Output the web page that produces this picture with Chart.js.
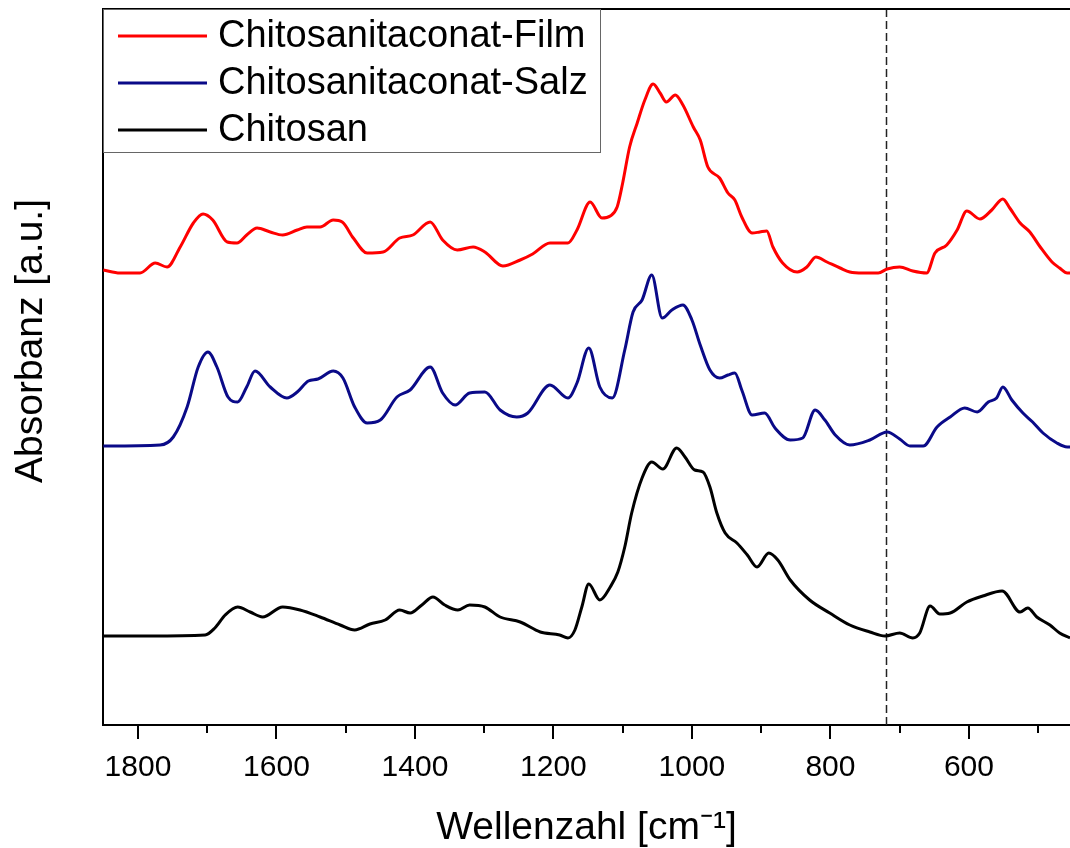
<!DOCTYPE html>
<html>
<head>
<meta charset="utf-8">
<title>FTIR Chitosanitaconat</title>
<script src="https://cdn.jsdelivr.net/npm/chart.js@4.4.1/dist/chart.umd.min.js"></script>
<style>
  html, body { margin: 0; padding: 0; background: #fff; }
  #wrap { width: 1070px; height: 848px; overflow: hidden; }
</style>
</head>
<body>
<div id="wrap"><canvas id="chart" width="1070" height="848"></canvas></div>
<script>
// Data (wavenumber in cm-1, absorbance in arbitrary units, curves are offset)
const seriesLabels = ['Chitosanitaconat-Film', 'Chitosanitaconat-Salz', 'Chitosan'];
const seriesColors = ['#ff0000', '#0a0a88', '#000000'];

const filmWavenumbers = [1850, 1826, 1797, 1775, 1758, 1739, 1720, 1706, 1692, 1671, 1657, 1643, 1628, 1609, 1591, 1570, 1556, 1537, 1518, 1505, 1489, 1469, 1446, 1422, 1403, 1378, 1360, 1339, 1316, 1299, 1273, 1248, 1230, 1205, 1179, 1166, 1147, 1130, 1118, 1108, 1100, 1090, 1079, 1068, 1056, 1046, 1037, 1024, 1013, 998, 988, 977, 960, 948, 938, 928, 913, 902, 892, 883, 869, 848, 834, 821, 805, 786, 772, 753, 731, 718, 700, 681, 661, 649, 632, 617, 603, 584, 567, 551, 541, 526, 512, 497, 480, 469, 458, 454];
const filmAbsorbance = [4.55, 4.52, 4.52, 4.62, 4.58, 4.78, 5.02, 5.11, 5.05, 4.83, 4.82, 4.90, 4.97, 4.93, 4.90, 4.95, 4.98, 4.98, 5.05, 5.03, 4.87, 4.72, 4.73, 4.87, 4.90, 5.03, 4.85, 4.75, 4.78, 4.73, 4.59, 4.65, 4.71, 4.82, 4.82, 4.95, 5.23, 5.07, 5.09, 5.18, 5.42, 5.78, 6.02, 6.25, 6.41, 6.32, 6.23, 6.30, 6.20, 5.98, 5.85, 5.58, 5.47, 5.32, 5.25, 5.08, 4.92, 4.93, 4.94, 4.78, 4.62, 4.53, 4.58, 4.68, 4.63, 4.57, 4.53, 4.52, 4.52, 4.56, 4.58, 4.54, 4.52, 4.72, 4.80, 4.95, 5.14, 5.06, 5.15, 5.26, 5.17, 5.02, 4.93, 4.78, 4.63, 4.57, 4.52, 4.52];

const saltWavenumbers = [1850, 1768, 1749, 1729, 1713, 1699, 1686, 1670, 1656, 1643, 1631, 1609, 1585, 1570, 1554, 1540, 1518, 1504, 1487, 1469, 1450, 1426, 1407, 1378, 1360, 1342, 1321, 1299, 1277, 1253, 1237, 1205, 1179, 1166, 1149, 1133, 1115, 1097, 1085, 1072, 1058, 1043, 1029, 1013, 1000, 988, 974, 960, 948, 938, 928, 913, 895, 880, 858, 840, 822, 808, 793, 772, 743, 718, 700, 685, 666, 646, 627, 606, 588, 572, 560, 551, 538, 522, 508, 493, 473, 458, 454];
const saltAbsorbance = [2.79, 2.80, 2.88, 3.18, 3.58, 3.73, 3.58, 3.28, 3.23, 3.38, 3.54, 3.38, 3.27, 3.33, 3.44, 3.46, 3.54, 3.47, 3.18, 3.02, 3.05, 3.28, 3.35, 3.58, 3.32, 3.20, 3.32, 3.33, 3.15, 3.08, 3.12, 3.40, 3.27, 3.42, 3.77, 3.38, 3.27, 3.75, 4.13, 4.25, 4.50, 4.07, 4.15, 4.20, 4.05, 3.80, 3.55, 3.47, 3.50, 3.52, 3.35, 3.10, 3.12, 2.97, 2.85, 2.87, 3.15, 3.05, 2.90, 2.80, 2.85, 2.93, 2.86, 2.79, 2.79, 2.98, 3.08, 3.17, 3.13, 3.23, 3.27, 3.38, 3.25, 3.12, 3.03, 2.92, 2.82, 2.78, 2.78];

const chitosanWavenumbers = [1850, 1783, 1703, 1689, 1674, 1656, 1638, 1620, 1591, 1566, 1537, 1508, 1487, 1465, 1443, 1422, 1407, 1390, 1374, 1357, 1338, 1321, 1299, 1277, 1248, 1219, 1191, 1179, 1169, 1159, 1149, 1133, 1118, 1107, 1097, 1087, 1072, 1058, 1042, 1022, 1010, 996, 984, 974, 964, 952, 935, 920, 906, 889, 876, 858, 830, 801, 772, 743, 721, 700, 681, 671, 656, 642, 627, 603, 580, 552, 526, 515, 502, 483, 469, 454];
const chitosanAbsorbance = [0.89, 0.89, 0.90, 0.97, 1.10, 1.18, 1.13, 1.08, 1.18, 1.15, 1.08, 1.00, 0.95, 1.01, 1.05, 1.15, 1.12, 1.20, 1.28, 1.20, 1.15, 1.20, 1.18, 1.08, 1.03, 0.93, 0.90, 0.87, 0.95, 1.18, 1.41, 1.25, 1.38, 1.53, 1.78, 2.12, 2.47, 2.63, 2.56, 2.77, 2.68, 2.55, 2.53, 2.38, 2.12, 1.92, 1.82, 1.70, 1.58, 1.72, 1.65, 1.45, 1.25, 1.12, 1.00, 0.93, 0.89, 0.92, 0.87, 0.92, 1.19, 1.11, 1.12, 1.23, 1.29, 1.34, 1.13, 1.17, 1.08, 1.00, 0.92, 0.87];

const xMajorTicks = [1800, 1600, 1400, 1200, 1000, 800, 600];
const xMinorTicks = [1700, 1500, 1300, 1100, 900, 700, 500];
const markerWavenumber = 720;

const FONT = "'Liberation Sans', Arial, sans-serif";

function toPoints(xs, ys) {
    return xs.map((x, i) => ({ x: x, y: ys[i] }));
}

// Frame, ticks, dashed marker, legend box and y title
const framePlugin = {
    id: 'frame',
    beforeDatasetsDraw(chart) {
        const { ctx, chartArea: area, scales: { x } } = chart;
        const px = Math.round(x.getPixelForValue(markerWavenumber)) + 0.5;
        ctx.save();
        ctx.strokeStyle = '#222';
        ctx.lineWidth = 1.5;
        ctx.setLineDash([8, 4]);
        ctx.beginPath();
        ctx.moveTo(px, area.top);
        ctx.lineTo(px, area.bottom);
        ctx.stroke();
        ctx.restore();
    },
    afterDraw(chart) {
        const { ctx, chartArea: area, scales: { x } } = chart;
        ctx.save();
        ctx.strokeStyle = '#000';
        ctx.lineWidth = 2;

        // top frame line (no right edge, the figure is cut there)
        ctx.beginPath();
        ctx.moveTo(area.left, area.top);
        ctx.lineTo(area.right, area.top);
        ctx.stroke();

        // x ticks, outward
        const tick = (v, len) => {
            const p = Math.round(x.getPixelForValue(v));
            ctx.beginPath();
            ctx.moveTo(p, area.bottom);
            ctx.lineTo(p, area.bottom + len);
            ctx.stroke();
        };
        xMajorTicks.forEach(v => tick(v, 14));
        xMinorTicks.forEach(v => tick(v, 8));

        // legend
        const lx = area.left, ly = area.top, lw = 497, lh = 143;
        ctx.fillStyle = '#fff';
        ctx.fillRect(lx + 1, ly + 1, lw - 1, lh - 1);
        ctx.strokeStyle = '#666';
        ctx.lineWidth = 1;
        ctx.strokeRect(lx + 0.5, ly + 0.5, lw, lh);
        ctx.font = '38px ' + FONT;
        ctx.textBaseline = 'middle';
        ctx.textAlign = 'left';
        chart.data.datasets.forEach((ds, i) => {
            const rowY = ly + 27 + i * 47;
            ctx.strokeStyle = ds.borderColor;
            ctx.lineWidth = 3;
            ctx.beginPath();
            ctx.moveTo(lx + 15, rowY);
            ctx.lineTo(lx + 104, rowY);
            ctx.stroke();
            ctx.fillStyle = '#000';
            ctx.fillText(ds.label, lx + 115, rowY + 1);
        });

        // y axis title
        ctx.translate(42, 341);
        ctx.rotate(-Math.PI / 2);
        ctx.font = '39px ' + FONT;
        ctx.textAlign = 'center';
        ctx.textBaseline = 'alphabetic';
        ctx.fillStyle = '#000';
        ctx.fillText('Absorbanz [a.u.]', 0, 0);
        ctx.restore();
    }
};

const datasets = [
    toPoints(filmWavenumbers, filmAbsorbance),
    toPoints(saltWavenumbers, saltAbsorbance),
    toPoints(chitosanWavenumbers, chitosanAbsorbance)
].map((pts, i) => ({
    label: seriesLabels[i],
    data: pts,
    borderColor: seriesColors[i],
    borderWidth: 3,
    pointRadius: 0,
    fill: false,
    cubicInterpolationMode: 'monotone'
}));

new Chart(document.getElementById('chart').getContext('2d'), {
    type: 'line',
    data: { datasets: datasets },
    options: {
        responsive: false,
        animation: false,
        devicePixelRatio: 1,
        layout: { padding: { top: 9, right: 0, bottom: 0, left: 0 } },
        plugins: {
            legend: { display: false },
            tooltip: { enabled: false }
        },
        scales: {
            x: {
                type: 'linear',
                reverse: true,
                min: 454,
                max: 1850.5,
                afterBuildTicks: scale => {
                    scale.ticks = xMajorTicks.map(v => ({ value: v }));
                },
                afterFit: scale => { scale.height = 123; },
                grid: { display: false },
                border: { display: true, color: '#000', width: 2 },
                ticks: {
                    color: '#000',
                    font: { family: FONT, size: 30 },
                    padding: 17,
                    maxRotation: 0,
                    autoSkip: false,
                    callback: v => String(v)
                },
                title: {
                    display: true,
                    text: 'Wellenzahl [cm\u207B\u00B9]',
                    color: '#000',
                    font: { family: FONT, size: 39 },
                    padding: { top: 0, bottom: -4 }
                }
            },
            y: {
                min: 0,
                max: 7.16,
                afterFit: scale => { scale.width = 103; },
                grid: { display: false },
                ticks: { display: false },
                border: { display: true, color: '#000', width: 2 }
            }
        }
    },
    plugins: [framePlugin]
});
</script>
</body>
</html>
